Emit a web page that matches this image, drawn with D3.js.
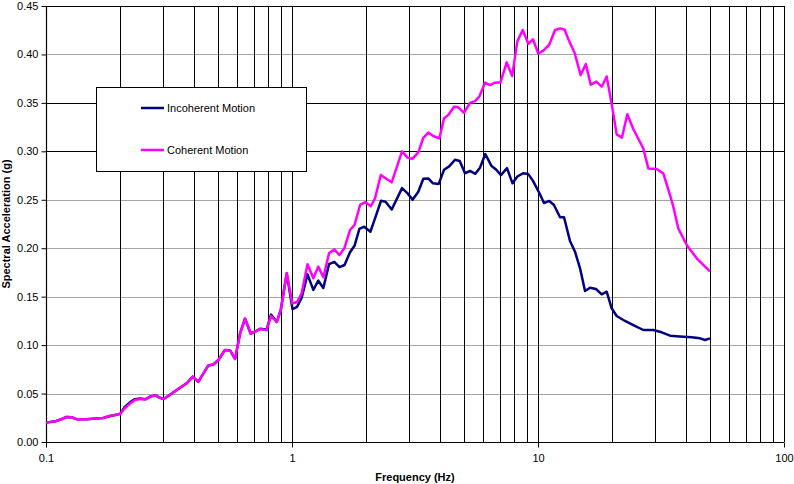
<!DOCTYPE html>
<html><head><meta charset="utf-8">
<script src="https://cdn.jsdelivr.net/npm/d3@7"></script>
<style>body{margin:0;background:#fff}svg{display:block;font-family:"Liberation Sans",Arial,sans-serif}</style>
</head><body><svg id="c" width="794" height="484"></svg>
<script>
const xTickLabels = ["0.1","1","10","100"];
const yTickLabels = ["0.00","0.05","0.10","0.15","0.20","0.25","0.30","0.35","0.40","0.45"];
const seriesNames = ["Incoherent Motion","Coherent Motion"];

const incoherentFreq = [0.1,0.109,0.116,0.121,0.127,0.134,0.146,0.171,0.182,0.191,0.2,0.209,0.22,0.23,0.241,0.254,0.266,0.279,0.288,0.3,0.314,0.34,0.373,0.395,0.416,0.457,0.479,0.502,0.534,0.56,0.587,0.615,0.644,0.679,0.707,0.741,0.789,0.821,0.867,0.9,0.952,
1.005,1.048,1.095,1.156,1.221,1.279,1.341,1.414,1.486,1.56,1.635,1.721,1.795,1.879,1.964,2.083,2.175,2.301,2.4,2.543,2.801,2.951,3.091,3.262,3.418,3.582,3.741,3.945,4.149,4.355,4.599,4.806,5.05,5.292,5.561,5.809,6.106,6.459,6.768,7.071,7.482,7.877,8.241,8.69,9.133,9.543,10.1,10.58,11.11,11.61,12.29,12.76,13.49,14.14,14.82,15.53,16.27,17.21,18.15,19.02,19.93,20.88,22.58,24.4,26.79,29.42,31.83,34.41,38.97,42.14,45.55,47.74,50];
const incoherentSA = [0.020,0.0213,0.0237,0.0258,0.0255,0.0234,0.0234,0.0248,0.0268,0.0279,0.029,0.0362,0.0412,0.0442,0.0450,0.0442,0.0470,0.0481,0.046,0.0444,0.0475,0.0537,0.0606,0.0674,0.062,0.079,0.080,0.0846,0.0949,0.0945,0.0858,0.112,0.1274,0.112,0.1138,0.1168,0.1162,0.1315,0.124,0.136,0.174,
0.137,0.1395,0.149,0.173,0.157,0.1665,0.159,0.1835,0.186,0.1805,0.1827,0.1958,0.2025,0.22,0.2222,0.217,0.2308,0.249,0.248,0.240,0.262,0.2566,0.25,0.2583,0.2717,0.272,0.267,0.2662,0.281,0.2845,0.2913,0.290,0.2773,0.2798,0.2768,0.2831,0.2972,0.2852,0.281,0.2755,0.2827,0.267,0.274,0.2773,0.2765,0.2695,0.2575,0.2466,0.2488,0.2446,0.2319,0.2319,0.2074,0.1964,0.1793,0.1558,0.1592,0.1579,0.1524,0.1551,0.138,0.130,0.1249,0.1207,0.1156,0.1156,0.1132,0.1097,0.1087,0.108,0.107,0.1053,0.107];

const coherentFreq = [0.1,0.109,0.116,0.121,0.127,0.134,0.146,0.171,0.182,0.191,0.2,0.209,0.22,0.23,0.241,0.254,0.266,0.279,0.288,0.3,0.314,0.34,0.373,0.395,0.416,0.457,0.479,0.502,0.534,0.56,0.587,0.615,0.644,0.679,0.707,0.741,0.789,0.821,0.867,0.9,0.952,
1.003,1.048,1.095,1.156,1.221,1.279,1.341,1.414,1.486,1.557,1.632,1.721,1.795,1.895,1.99,2.091,2.175,2.296,2.411,2.543,2.801,2.949,3.082,3.262,3.418,3.582,3.753,3.971,4.149,4.32,4.556,4.743,5.003,5.292,5.545,5.772,6.09,6.381,6.687,7.039,7.459,7.854,8.241,8.666,9.133,9.543,10.03,10.51,11.11,11.73,12.29,12.84,13.28,14.07,14.91,15.65,16.38,17.26,18.15,19.02,19.93,20.88,21.95,23.07,24.4,26.79,28.08,30.38,32.31,34.41,35.48,37.18,40.23,44.17,50];
const coherentSA = [0.020,0.0213,0.0237,0.0258,0.0255,0.0234,0.0234,0.0248,0.0268,0.0279,0.0289,0.0348,0.0399,0.0433,0.0444,0.044,0.0468,0.0481,0.046,0.0444,0.0475,0.0537,0.0606,0.0674,0.062,0.079,0.080,0.0846,0.0949,0.0945,0.0858,0.112,0.1274,0.112,0.1138,0.1165,0.1155,0.130,0.124,0.136,0.1745,
0.143,0.1445,0.1535,0.1835,0.169,0.181,0.170,0.1947,0.1988,0.193,0.1999,0.2188,0.224,0.2451,0.2475,0.2433,0.2515,0.2755,0.272,0.268,0.300,0.2935,0.2922,0.299,0.314,0.3193,0.3158,0.3133,0.334,0.3375,0.346,0.3454,0.3398,0.350,0.3519,0.3564,0.3708,0.3684,0.3708,0.3712,0.3918,0.3777,0.4135,0.4252,0.411,0.4155,0.401,0.404,0.41,0.4252,0.4269,0.4255,0.4157,0.402,0.3787,0.39,0.3687,0.372,0.3667,0.3773,0.349,0.3175,0.3142,0.3383,0.323,0.303,0.2824,0.2817,0.2773,0.2549,0.243,0.2205,0.2033,0.1896,0.1762];

const colors = ["#000080","#FF00FF"];

const svg = d3.select("#c");
const x = d3.scaleLog().domain([0.1,100]).range([46,784]);
const y = d3.scaleLinear().domain([0,0.45]).range([442,6]);
const crisp = v => Math.round(v) + 0.5;

// horizontal gridlines
const yVals = yTickLabels.map(Number);
svg.append("g").selectAll("line").data(yVals.filter(v=>v>0&&v<0.45)).join("line")
  .attr("x1",46).attr("x2",784).attr("y1",d=>crisp(y(d))).attr("y2",d=>crisp(y(d)))
  .attr("stroke",d=>(Math.abs(d-0.30)<1e-9||Math.abs(d-0.35)<1e-9)?"#000":"#a6a6a6").attr("stroke-width",1);

// vertical gridlines (minor + major)
const vTicks = x.ticks().filter(v=>v>0.1+1e-9 && v<100-1e-9);
svg.append("g").selectAll("line").data(vTicks).join("line")
  .attr("x1",d=>crisp(x(d))).attr("x2",d=>crisp(x(d))).attr("y1",6).attr("y2",442)
  .attr("stroke","#000").attr("stroke-width",1);

// frame top & right
svg.append("line").attr("x1",46).attr("x2",784.5).attr("y1",6.5).attr("y2",6.5).attr("stroke","#000");
svg.append("line").attr("x1",784.5).attr("x2",784.5).attr("y1",6).attr("y2",442).attr("stroke","#000");

// axes
const xAxis = d3.axisBottom(x).tickValues(xTickLabels.map(Number)).tickFormat((d,i)=>xTickLabels[i]).tickSize(5).tickPadding(7);
const gx = svg.append("g").attr("transform","translate(0,442.5)").call(xAxis);
const yAxis = d3.axisLeft(y).tickValues(yVals).tickFormat((d,i)=>yTickLabels[i]).tickSize(5).tickPadding(3);
const gy = svg.append("g").attr("transform","translate(46.5,0)").call(yAxis);
[gx,gy].forEach(g=>{
  g.selectAll("path").attr("stroke","#000").attr("stroke-width",1.2);
  g.selectAll("line").attr("stroke","#000");
  g.selectAll("text").attr("font-size",11).attr("fill","#000").attr("font-family","Liberation Sans, Arial, sans-serif");
});
gy.select(".domain").attr("d","M0,6V442");
gx.select(".domain").attr("d","M46,0H784");

// lines
const line = d3.line().x(d=>x(d[0])).y(d=>y(d[1]));
const incData = incoherentFreq.map((f,i)=>[f,incoherentSA[i]]);
const cohData = coherentFreq.map((f,i)=>[f,coherentSA[i]]);
svg.append("path").datum(incData).attr("d",line).attr("fill","none").attr("stroke",colors[0]).attr("stroke-width",2.5).attr("stroke-linejoin","round");
svg.append("path").datum(cohData).attr("d",line).attr("fill","none").attr("stroke",colors[1]).attr("stroke-width",2.5).attr("stroke-linejoin","round");

// legend
const lg = svg.append("g");
lg.append("rect").attr("x",96.5).attr("y",87.5).attr("width",210).attr("height",84).attr("fill","#fff").attr("stroke","#000").attr("stroke-width",1);
seriesNames.forEach((n,i)=>{
  const yy = 108 + i*42;
  lg.append("line").attr("x1",141).attr("x2",164).attr("y1",yy).attr("y2",yy).attr("stroke",colors[i]).attr("stroke-width",2.5);
  lg.append("text").attr("x",167).attr("y",yy+4).attr("font-size",11).text(n);
});

// axis titles
svg.append("text").attr("x",415).attr("y",481).attr("text-anchor","middle").attr("font-size",11).attr("font-weight","bold").text("Frequency (Hz)");
svg.append("text").attr("transform","translate(10,224) rotate(-90)").attr("text-anchor","middle").attr("font-size",11).attr("font-weight","bold").text("Spectral Acceleration (g)");
</script></body></html>
